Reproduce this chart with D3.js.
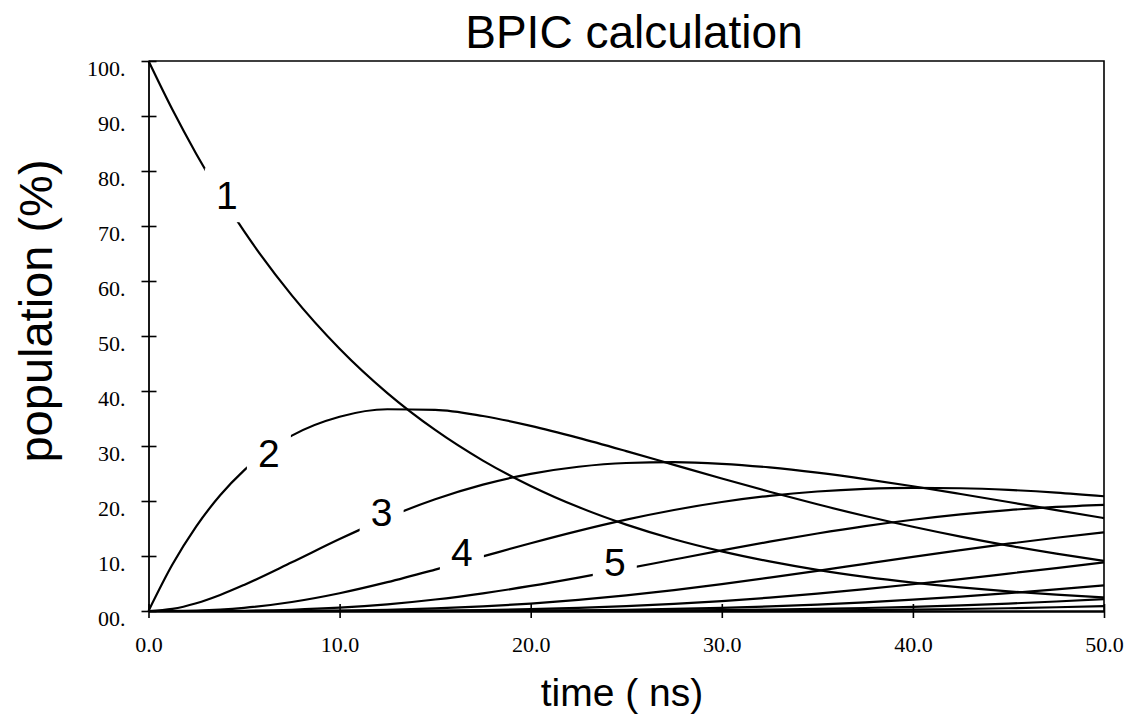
<!DOCTYPE html>
<html>
<head>
<meta charset="utf-8">
<script src="https://cdn.jsdelivr.net/npm/d3@7"></script>
<style>
  html, body { margin: 0; padding: 0; background: #fff; }
  svg { display: block; }
</style>
</head>
<body>
<svg id="chart" width="1131" height="721"></svg>
<script>
// ---- data ----
const time = [0, 1.25, 2.5, 3.75, 5, 7.5, 10, 12.5, 15, 17.5, 20, 22.5, 25, 27.5, 30, 32.5, 35, 37.5, 40, 42.5, 45, 47.5, 50];
const pop1 = [100, 91.16, 83.10, 75.75, 69.05, 57.38, 47.68, 39.62, 32.92, 27.35, 22.73, 18.89, 15.70, 13.04, 10.84, 9.01, 7.48, 6.22, 5.17, 4.29, 3.57, 2.97, 2.46];
const pop2 = [0, 8.44, 15.39, 21.04, 25.57, 31.88, 35.32, 36.68, 36.58, 35.46, 33.67, 31.48, 29.07, 26.57, 24.08, 21.68, 19.40, 17.27, 15.31, 13.52, 11.89, 10.43, 9.12];
const pop3 = [0, 0.39, 1.42, 2.92, 4.74, 8.85, 13.08, 16.98, 20.32, 22.98, 24.94, 26.23, 26.91, 27.06, 26.76, 26.10, 25.15, 23.99, 22.68, 21.27, 19.82, 18.35, 16.89];
const pop4 = [0, 0.01, 0.09, 0.27, 0.58, 1.64, 3.23, 5.24, 7.53, 9.93, 12.32, 14.57, 16.61, 18.37, 19.82, 20.94, 21.73, 22.21, 22.40, 22.32, 22.02, 21.53, 20.86];
const pop5 = [0, 0, 0.00, 0.02, 0.05, 0.23, 0.60, 1.21, 2.09, 3.22, 4.56, 6.07, 7.69, 9.36, 11.01, 12.60, 14.09, 15.43, 16.59, 17.57, 18.35, 18.93, 19.31];
const pop6 = [0, 0, 0, 0, 0.00, 0.03, 0.09, 0.22, 0.46, 0.83, 1.35, 2.02, 2.85, 3.81, 4.89, 6.07, 7.30, 8.57, 9.83, 11.06, 12.24, 13.32, 14.30];
const pop7 = [0, 0, 0, 0, 0, 0.00, 0.01, 0.03, 0.09, 0.18, 0.33, 0.56, 0.88, 1.29, 1.81, 2.43, 3.16, 3.97, 4.86, 5.80, 6.80, 7.81, 8.83];
const pop8 = [0, 0, 0, 0, 0, 0, 0.00, 0.00, 0.01, 0.03, 0.07, 0.13, 0.23, 0.38, 0.58, 0.84, 1.17, 1.57, 2.06, 2.61, 3.24, 3.93, 4.67];
const pop9 = [0, 0, 0, 0, 0, 0, 0, 0, 0.00, 0.01, 0.01, 0.03, 0.05, 0.10, 0.16, 0.25, 0.38, 0.55, 0.76, 1.03, 1.35, 1.73, 2.16];
const pop10 = [0, 0, 0, 0, 0, 0, 0, 0, 0, 0, 0.00, 0.01, 0.01, 0.02, 0.04, 0.07, 0.11, 0.17, 0.25, 0.36, 0.50, 0.68, 0.89];

const seriesList = [pop1, pop2, pop3, pop4, pop5, pop6, pop7, pop8, pop9, pop10];

// curve labels: text and anchor position (time, population)
const labelText = ["1", "2", "3", "4", "5"];
const labelTime = [4.1, 6.3, 12.2, 16.4, 24.4];
const labelPop  = [75.6, 28.7, 18.0, 10.7, 8.9];

const xTickValues = [0, 10, 20, 30, 40, 50];
const xTickLabels = ["0.0", "10.0", "20.0", "30.0", "40.0", "50.0"];
const yTickValues = [0, 10, 20, 30, 40, 50, 60, 70, 80, 90, 100];
const yTickLabels = ["00.", "10.", "20.", "30.", "40.", "50.", "60.", "70.", "80.", "90.", "100."];

const titleText = "BPIC calculation";
const xTitle = "time ( ns)";
const yTitle = "population (%)";

// ---- drawing ----
const svg = d3.select("#chart");
const pLeft = 148.5, pRight = 1104, pTop = 61, pBottom = 611;

const x = d3.scaleLinear().domain([0, 50]).range([pLeft, pRight]);
const y = d3.scaleLinear().domain([0, 100]).range([pBottom, pTop]);

// frame (top and right)
svg.append("path")
  .attr("d", `M${pLeft},${pTop}H${pRight}V${pBottom}`)
  .attr("fill", "none")
  .attr("stroke", "#000")
  .attr("stroke-width", 1.6);

// curves
const line = d3.line()
  .x((d, i) => x(time[i]))
  .y(d => y(d))
  .curve(d3.curveMonotoneX);

svg.append("g")
  .selectAll("path")
  .data(seriesList)
  .join("path")
  .attr("d", d => line(d))
  .attr("fill", "none")
  .attr("stroke", "#000")
  .attr("stroke-width", 2.2)
  .attr("stroke-linejoin", "round");

// axes
const xAxis = d3.axisBottom(x)
  .tickValues(xTickValues)
  .tickFormat((d, i) => xTickLabels[i])
  .tickSizeInner(7)
  .tickSizeOuter(0)
  .tickPadding(18);

const gx = svg.append("g")
  .attr("transform", `translate(0,${pBottom})`)
  .call(xAxis);
gx.select(".domain").attr("stroke", "#000").attr("stroke-width", 2.4);
gx.selectAll(".tick line").attr("y1", -7).attr("y2", 7).attr("stroke-width", 1.6);
gx.selectAll(".tick text")
  .attr("font-family", "'Liberation Serif', 'Times New Roman', serif")
  .attr("font-size", 22)
  .attr("fill", "#000");

const yAxis = d3.axisLeft(y)
  .tickValues(yTickValues)
  .tickFormat((d, i) => yTickLabels[i])
  .tickSizeInner(7)
  .tickSizeOuter(0)
  .tickPadding(16);

const gy = svg.append("g")
  .attr("transform", `translate(${pLeft},0)`)
  .call(yAxis);
gy.select(".domain").attr("stroke", "#000").attr("stroke-width", 1.8);
gy.selectAll(".tick line").attr("x1", -7).attr("x2", 8).attr("stroke-width", 1.6);
gy.selectAll(".tick text")
  .attr("font-family", "'Liberation Serif', 'Times New Roman', serif")
  .attr("font-size", 22)
  .attr("dy", "0.66em")
  .attr("fill", "#000");

// curve labels with white gaps
const lg = svg.append("g");
labelText.forEach((t, i) => {
  const cx = x(labelTime[i]), cy = y(labelPop[i]);
  lg.append("rect")
    .attr("x", cx - 22).attr("y", cy - 27)
    .attr("width", 44).attr("height", 54)
    .attr("fill", "#fff");
  lg.append("text")
    .attr("x", cx).attr("y", cy)
    .attr("dy", "0.36em")
    .attr("text-anchor", "middle")
    .attr("font-family", "'Liberation Sans', Arial, sans-serif")
    .attr("font-size", 39)
    .attr("fill", "#000")
    .text(t);
});

// titles
svg.append("text")
  .attr("x", 634).attr("y", 48)
  .attr("text-anchor", "middle")
  .attr("font-family", "'Liberation Sans', Arial, sans-serif")
  .attr("font-size", 46)
  .attr("fill", "#000")
  .text(titleText);

svg.append("text")
  .attr("x", 622).attr("y", 706)
  .attr("text-anchor", "middle")
  .attr("font-family", "'Liberation Sans', Arial, sans-serif")
  .attr("font-size", 39)
  .attr("fill", "#000")
  .text(xTitle);

svg.append("text")
  .attr("transform", "translate(52,311) rotate(-90)")
  .attr("text-anchor", "middle")
  .attr("font-family", "'Liberation Sans', Arial, sans-serif")
  .attr("font-size", 47)
  .attr("fill", "#000")
  .text(yTitle);
</script>
</body>
</html>
